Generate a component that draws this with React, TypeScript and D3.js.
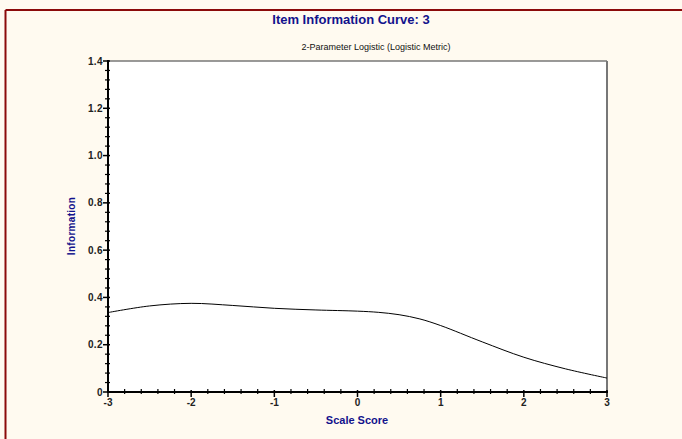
import React from "react";
import * as d3 from "d3";

const scoreValues = [-3, -2.5, -2, -1.5, -1, -0.5, 0, 0.25, 0.5, 0.75, 1, 1.5, 2, 2.5, 3];
const informationValues = [0.336, 0.364, 0.375, 0.366, 0.354, 0.347, 0.342, 0.337, 0.327, 0.309, 0.281, 0.212, 0.147, 0.098, 0.059];
const xTicks = [-3, -2, -1, 0, 1, 2, 3];
const yTicks = [0, 0.2, 0.4, 0.6, 0.8, 1.0, 1.2, 1.4];
const yTickLabels = ["0", "0.2", "0.4", "0.6", "0.8", "1.0", "1.2", "1.4"];

const W = 682;
const H = 439;
const plot = { left: 108, right: 607, top: 61, bottom: 392 };
const navy = "#12128c";
const font = "'Liberation Sans', Arial, sans-serif";

export default function App() {
  const x = d3.scaleLinear().domain([-3, 3]).range([plot.left, plot.right]);
  const y = d3.scaleLinear().domain([0, 1.4]).range([plot.bottom, plot.top]);

  const pts = scoreValues.map((s, i) => [s, informationValues[i]] as [number, number]);
  const line = d3
    .line<[number, number]>()
    .x((d) => x(d[0]))
    .y((d) => y(d[1]))
    .curve(d3.curveCatmullRom.alpha(0.5));

  const xMinor = d3.range(-3, 3.0001, 0.2).filter((v) => Math.abs(v - Math.round(v)) > 1e-6);
  const yMinor = d3.range(0, 1.40001, 0.04).filter((v) => Math.abs(v / 0.2 - Math.round(v / 0.2)) > 1e-6);

  return (
    <svg
      width={W}
      height={H}
      style={{ position: "absolute", left: 0, top: 0, display: "block" }}
      fontFamily={font}
    >
      <rect x={0} y={0} width={W} height={H} fill="#fffaf0" />
      {/* outer frame */}
      <line x1={5.5} y1={10} x2={W} y2={10} stroke="#8b0a0a" strokeWidth={2} />
      <line x1={5.5} y1={10} x2={5.5} y2={H} stroke="#8b0a0a" strokeWidth={2} />

      <text x={351} y={24} textAnchor="middle" fontSize={13} fontWeight="bold" fill={navy}>
        Item Information Curve: 3
      </text>
      <text x={376} y={50} textAnchor="middle" fontSize={9} fill="#111">
        2-Parameter Logistic (Logistic Metric)
      </text>

      {/* plot area */}
      <rect
        x={plot.left}
        y={plot.top}
        width={plot.right - plot.left}
        height={plot.bottom - plot.top}
        fill="#ffffff"
      />
      <line x1={plot.left} y1={plot.top} x2={plot.right} y2={plot.top} stroke="#777" strokeWidth={1.5} />
      <line x1={plot.right} y1={plot.top} x2={plot.right} y2={plot.bottom} stroke="#777" strokeWidth={2} />

      <path d={line(pts) ?? ""} fill="none" stroke="#000" strokeWidth={1} />

      {/* y axis */}
      <line x1={plot.left} y1={plot.top - 1} x2={plot.left} y2={plot.bottom + 1} stroke="#000" strokeWidth={2} />
      {yMinor.map((v) => (
        <line key={"ym" + v} x1={plot.left - 3} x2={plot.left + 2} y1={y(v)} y2={y(v)} stroke="#000" strokeWidth={1.2} />
      ))}
      {yTicks.map((v, i) => (
        <g key={"y" + v}>
          <line x1={plot.left - 5} x2={plot.left + 2} y1={y(v)} y2={y(v)} stroke="#000" strokeWidth={1.5} />
          <text
            x={plot.left - 5}
            y={y(v) + 3.5}
            textAnchor="end"
            fontSize={10}
            fontWeight="bold"
            fill="#222"
            letterSpacing={0.4}
          >
            {yTickLabels[i]}
          </text>
        </g>
      ))}

      {/* x axis */}
      <line x1={plot.left - 1} y1={plot.bottom} x2={plot.right + 1} y2={plot.bottom} stroke="#000" strokeWidth={2} />
      {xMinor.map((v) => (
        <line key={"xm" + v} x1={x(v)} x2={x(v)} y1={plot.bottom - 3} y2={plot.bottom + 2} stroke="#000" strokeWidth={1.2} />
      ))}
      {xTicks.map((v) => (
        <g key={"x" + v}>
          <line x1={x(v)} x2={x(v)} y1={plot.bottom - 2} y2={plot.bottom + 5} stroke="#000" strokeWidth={1.5} />
          <text x={x(v)} y={406} textAnchor="middle" fontSize={10} fontWeight="bold" fill="#222">
            {v}
          </text>
        </g>
      ))}

      <text x={357} y={424} textAnchor="middle" fontSize={11} fontWeight="bold" fill={navy}>
        Scale Score
      </text>
      <text
        transform={`translate(75, 226) rotate(-90)`}
        textAnchor="middle"
        fontSize={10}
        fontWeight="bold"
        fill={navy}
        letterSpacing={0.3}
      >
        Information
      </text>
    </svg>
  );
}
